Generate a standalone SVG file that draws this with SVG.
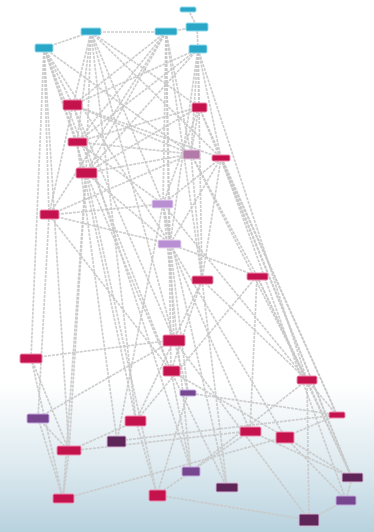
<svg xmlns="http://www.w3.org/2000/svg" width="374" height="532" viewBox="0 0 374 532">
<defs>
<linearGradient id="bg" x1="0" y1="0" x2="0" y2="1">
<stop offset="0" stop-color="#ffffff"/>
<stop offset="0.72" stop-color="#ffffff"/>
<stop offset="0.88" stop-color="#dce9ef"/>
<stop offset="1" stop-color="#b8d2de"/>
</linearGradient>
</defs>
<style>
.e line{stroke:#c9c9c9;stroke-width:1.7;stroke-dasharray:3 1;fill:none;opacity:0.9}
.n rect{stroke-width:1;rx:1.5}
.cy rect{fill:#2aa6c6;stroke:#8fdbee}
.cr rect{fill:#c4124c;stroke:#f08ab0}
.mv rect{fill:#b27aa8;stroke:#e7c3dc}
.vi rect{fill:#b98fd4;stroke:#ead7f2}
.pu rect{fill:#76468e;stroke:#c4a8e0}
.dp rect{fill:#5e2658;stroke:#d9b5d6}
</style>
<rect x="0" y="0" width="374" height="532" fill="url(#bg)"/>
<g class="e" id="edges">
<line x1="188" y1="9" x2="197" y2="27"/>
<line x1="197" y1="27" x2="198" y2="49"/>
<line x1="197" y1="27" x2="166" y2="32"/>
<line x1="91" y1="32" x2="166" y2="32"/>
<line x1="91" y1="32" x2="44" y2="48"/>
<line x1="44" y1="48" x2="31" y2="358"/>
<line x1="44" y1="48" x2="49" y2="215"/>
<line x1="44" y1="48" x2="73" y2="105"/>
<line x1="44" y1="48" x2="77" y2="142"/>
<line x1="44" y1="48" x2="86" y2="173"/>
<line x1="44" y1="48" x2="191" y2="154"/>
<line x1="44" y1="48" x2="170" y2="244"/>
<line x1="44" y1="48" x2="171" y2="371"/>
<line x1="44" y1="48" x2="69" y2="451"/>
<line x1="91" y1="32" x2="73" y2="105"/>
<line x1="91" y1="32" x2="77" y2="142"/>
<line x1="91" y1="32" x2="86" y2="173"/>
<line x1="91" y1="32" x2="163" y2="204"/>
<line x1="91" y1="32" x2="136" y2="421"/>
<line x1="91" y1="32" x2="174" y2="340"/>
<line x1="91" y1="32" x2="221" y2="158"/>
<line x1="91" y1="32" x2="199" y2="107"/>
<line x1="166" y1="32" x2="73" y2="105"/>
<line x1="166" y1="32" x2="77" y2="142"/>
<line x1="166" y1="32" x2="49" y2="215"/>
<line x1="166" y1="32" x2="86" y2="173"/>
<line x1="166" y1="32" x2="163" y2="204"/>
<line x1="166" y1="32" x2="170" y2="244"/>
<line x1="166" y1="32" x2="191" y2="154"/>
<line x1="166" y1="32" x2="202" y2="280"/>
<line x1="166" y1="32" x2="171" y2="371"/>
<line x1="198" y1="49" x2="199" y2="107"/>
<line x1="198" y1="49" x2="73" y2="105"/>
<line x1="198" y1="49" x2="77" y2="142"/>
<line x1="198" y1="49" x2="86" y2="173"/>
<line x1="198" y1="49" x2="191" y2="154"/>
<line x1="198" y1="49" x2="221" y2="158"/>
<line x1="198" y1="49" x2="202" y2="280"/>
<line x1="198" y1="49" x2="170" y2="244"/>
<line x1="198" y1="49" x2="307" y2="380"/>
<line x1="73" y1="105" x2="191" y2="154"/>
<line x1="73" y1="105" x2="221" y2="158"/>
<line x1="73" y1="105" x2="49" y2="215"/>
<line x1="73" y1="105" x2="174" y2="340"/>
<line x1="73" y1="105" x2="191" y2="471"/>
<line x1="199" y1="107" x2="77" y2="142"/>
<line x1="199" y1="107" x2="191" y2="154"/>
<line x1="199" y1="107" x2="337" y2="415"/>
<line x1="199" y1="107" x2="352" y2="478"/>
<line x1="199" y1="107" x2="163" y2="204"/>
<line x1="199" y1="107" x2="86" y2="173"/>
<line x1="77" y1="142" x2="191" y2="154"/>
<line x1="77" y1="142" x2="163" y2="204"/>
<line x1="77" y1="142" x2="136" y2="421"/>
<line x1="77" y1="142" x2="117" y2="441"/>
<line x1="86" y1="173" x2="191" y2="154"/>
<line x1="86" y1="173" x2="170" y2="244"/>
<line x1="86" y1="173" x2="171" y2="371"/>
<line x1="86" y1="173" x2="69" y2="451"/>
<line x1="86" y1="173" x2="157" y2="495"/>
<line x1="86" y1="173" x2="63" y2="499"/>
<line x1="191" y1="154" x2="307" y2="380"/>
<line x1="191" y1="154" x2="257" y2="276"/>
<line x1="191" y1="154" x2="202" y2="280"/>
<line x1="191" y1="154" x2="49" y2="215"/>
<line x1="221" y1="158" x2="352" y2="478"/>
<line x1="221" y1="158" x2="346" y2="500"/>
<line x1="221" y1="158" x2="337" y2="415"/>
<line x1="221" y1="158" x2="202" y2="280"/>
<line x1="221" y1="158" x2="163" y2="204"/>
<line x1="221" y1="158" x2="170" y2="244"/>
<line x1="49" y1="215" x2="163" y2="204"/>
<line x1="49" y1="215" x2="171" y2="371"/>
<line x1="49" y1="215" x2="38" y2="418"/>
<line x1="49" y1="215" x2="170" y2="244"/>
<line x1="163" y1="204" x2="170" y2="244"/>
<line x1="163" y1="204" x2="307" y2="380"/>
<line x1="163" y1="204" x2="117" y2="441"/>
<line x1="163" y1="204" x2="191" y2="471"/>
<line x1="163" y1="204" x2="227" y2="488"/>
<line x1="170" y1="244" x2="174" y2="340"/>
<line x1="170" y1="244" x2="250" y2="431"/>
<line x1="170" y1="244" x2="188" y2="393"/>
<line x1="170" y1="244" x2="285" y2="437"/>
<line x1="202" y1="280" x2="307" y2="380"/>
<line x1="202" y1="280" x2="136" y2="421"/>
<line x1="202" y1="280" x2="227" y2="488"/>
<line x1="202" y1="280" x2="171" y2="371"/>
<line x1="257" y1="276" x2="136" y2="421"/>
<line x1="257" y1="276" x2="307" y2="380"/>
<line x1="257" y1="276" x2="352" y2="478"/>
<line x1="257" y1="276" x2="170" y2="244"/>
<line x1="257" y1="276" x2="250" y2="431"/>
<line x1="174" y1="340" x2="31" y2="358"/>
<line x1="174" y1="340" x2="188" y2="393"/>
<line x1="174" y1="340" x2="309" y2="520"/>
<line x1="174" y1="340" x2="38" y2="418"/>
<line x1="31" y1="358" x2="69" y2="451"/>
<line x1="31" y1="358" x2="63" y2="499"/>
<line x1="171" y1="371" x2="191" y2="471"/>
<line x1="171" y1="371" x2="227" y2="488"/>
<line x1="171" y1="371" x2="285" y2="437"/>
<line x1="188" y1="393" x2="337" y2="415"/>
<line x1="188" y1="393" x2="157" y2="495"/>
<line x1="307" y1="380" x2="309" y2="520"/>
<line x1="307" y1="380" x2="337" y2="415"/>
<line x1="307" y1="380" x2="191" y2="471"/>
<line x1="307" y1="380" x2="352" y2="478"/>
<line x1="38" y1="418" x2="69" y2="451"/>
<line x1="38" y1="418" x2="63" y2="499"/>
<line x1="136" y1="421" x2="69" y2="451"/>
<line x1="136" y1="421" x2="157" y2="495"/>
<line x1="117" y1="441" x2="337" y2="415"/>
<line x1="69" y1="451" x2="250" y2="431"/>
<line x1="69" y1="451" x2="63" y2="499"/>
<line x1="63" y1="499" x2="285" y2="437"/>
<line x1="157" y1="495" x2="309" y2="520"/>
<line x1="157" y1="495" x2="250" y2="431"/>
<line x1="250" y1="431" x2="352" y2="478"/>
<line x1="285" y1="437" x2="337" y2="415"/>
<line x1="285" y1="437" x2="352" y2="478"/>
<line x1="285" y1="437" x2="346" y2="500"/>
<line x1="346" y1="500" x2="309" y2="520"/>
<line x1="346" y1="500" x2="352" y2="478"/>
</g>
<g id="n1" class="n cy"><rect x="180" y="7" width="16" height="5"/></g>
<g id="n2" class="n cy"><rect x="186" y="23" width="22" height="8"/></g>
<g id="n3" class="n cy"><rect x="189" y="45" width="18" height="8"/></g>
<g id="n4" class="n cy"><rect x="81" y="28" width="20" height="7"/></g>
<g id="n5" class="n cy"><rect x="155" y="28" width="22" height="7"/></g>
<g id="n6" class="n cy"><rect x="35" y="44" width="18" height="8"/></g>
<g id="n7" class="n cr"><rect x="63" y="100" width="19" height="10"/></g>
<g id="n8" class="n cr"><rect x="192" y="103" width="15" height="9"/></g>
<g id="n9" class="n cr"><rect x="68" y="138" width="19" height="8"/></g>
<g id="n10" class="n cr"><rect x="76" y="168" width="21" height="10"/></g>
<g id="n11" class="n mv"><rect x="183" y="150" width="17" height="9"/></g>
<g id="n12" class="n cr"><rect x="212" y="155" width="18" height="6"/></g>
<g id="n13" class="n cr"><rect x="40" y="210" width="19" height="9"/></g>
<g id="n14" class="n vi"><rect x="152" y="200" width="21" height="8"/></g>
<g id="n15" class="n vi"><rect x="158" y="240" width="23" height="8"/></g>
<g id="n16" class="n cr"><rect x="192" y="276" width="21" height="8"/></g>
<g id="n17" class="n cr"><rect x="247" y="273" width="21" height="7"/></g>
<g id="n18" class="n cr"><rect x="163" y="335" width="22" height="11"/></g>
<g id="n19" class="n cr"><rect x="20" y="354" width="22" height="9"/></g>
<g id="n20" class="n cr"><rect x="163" y="366" width="17" height="10"/></g>
<g id="n21" class="n pu"><rect x="180" y="390" width="16" height="6"/></g>
<g id="n22" class="n cr"><rect x="297" y="376" width="20" height="8"/></g>
<g id="n23" class="n pu"><rect x="27" y="414" width="22" height="9"/></g>
<g id="n24" class="n cr"><rect x="125" y="416" width="21" height="10"/></g>
<g id="n25" class="n dp"><rect x="107" y="436" width="19" height="11"/></g>
<g id="n26" class="n cr"><rect x="57" y="446" width="24" height="9"/></g>
<g id="n27" class="n cr"><rect x="53" y="494" width="21" height="9"/></g>
<g id="n28" class="n cr"><rect x="149" y="490" width="17" height="11"/></g>
<g id="n29" class="n pu"><rect x="182" y="467" width="18" height="9"/></g>
<g id="n30" class="n cr"><rect x="329" y="412" width="16" height="6"/></g>
<g id="n31" class="n cr"><rect x="240" y="427" width="21" height="9"/></g>
<g id="n32" class="n cr"><rect x="276" y="432" width="18" height="11"/></g>
<g id="n33" class="n dp"><rect x="216" y="483" width="22" height="9"/></g>
<g id="n34" class="n dp"><rect x="342" y="473" width="21" height="9"/></g>
<g id="n35" class="n pu"><rect x="336" y="496" width="20" height="9"/></g>
<g id="n36" class="n dp"><rect x="299" y="514" width="20" height="12"/></g>
</svg>
